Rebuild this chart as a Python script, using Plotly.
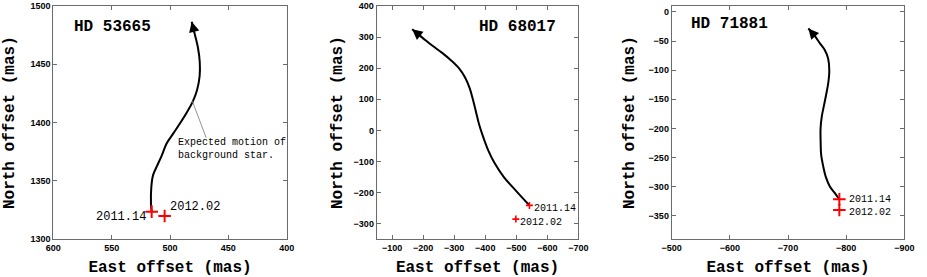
import plotly.graph_objects as go

# ---------------- data ----------------
names = ["HD 53665", "HD 68017", "HD 71881"]
epochs = ["2011.14", "2012.02"]

# expected background-star track (East, North) in mas, start -> arrow tip
track1_x = [515.7, 516.3, 516.0, 514.5, 511.4, 507.0, 502.8, 497.0, 491.4, 485.5, 480.5, 476.8, 474.6, 474.5, 476.0, 478.8, 481.4]
track1_y = [1323.7, 1330, 1345, 1355, 1362.3, 1372, 1382.3, 1391, 1399.5, 1409, 1418, 1428, 1440, 1452, 1464, 1476, 1486.5]
track2_x = [-542.5, -500, -460, -430, -410, -393, -380, -370, -360, -350, -335, -315, -290, -260, -230, -200, -164.3]
track2_y = [-241, -195, -150, -105, -65, -20, 20, 60, 100, 135, 170, 200, 225, 250, 272, 296, 325]
track3_x = [-788.3, -780, -772.2, -765, -760.7, -757, -756.2, -756, -758, -762, -766, -769.5, -771, -769, -763, -755, -745, -735]
track3_y = [-321.5, -310, -299.8, -283, -265.5, -245, -225.5, -200, -180, -160, -140, -120, -100, -80, -65, -54, -40, -28.5]

# measured companion positions at the two epochs
obs1_x = [515.7, 504.6]
obs1_y = [1323.7, 1320.0]
obs2_x = [-542.5, -498.6]
obs2_y = [-241.1, -285.0]
obs3_x = [-788.3, -788.3]
obs3_y = [-321.5, -339.7]

x_ranges = [[600, 400], [-50, -700], [-500, -900]]
y_ranges = [[1300, 1500], [-350, 400], [-390, 10]]
x_ticks = [[600, 550, 500, 450, 400], [-100, -200, -300, -400, -500, -600, -700], [-500, -600, -700, -800, -900]]
y_ticks = [[1300, 1350, 1400, 1450, 1500], [-300, -200, -100, 0, 100, 200, 300, 400],
           [-350, -300, -250, -200, -150, -100, -50, 0]]

# ---------------- layout geometry ----------------
W, H = 927, 277
x_dom = [[53.3 / W, 286.7 / W], [376.7 / W, 578.3 / W], [671.7 / W, 904.3 / W]]
y_dom = [1 - 239.3 / H, 1 - 6 / H]
y_title_standoff = [11, 7, 10]

MONO = "Liberation Mono"
SANS = "Liberation Sans"

fig = go.Figure()
tracks = [(track1_x, track1_y), (track2_x, track2_y), (track3_x, track3_y)]
obs = [(obs1_x, obs1_y), (obs2_x, obs2_y), (obs3_x, obs3_y)]
msize = [9, 5, 9]

for i in range(3):
    xa = "x" if i == 0 else f"x{i+1}"
    ya = "y" if i == 0 else f"y{i+1}"
    tx, ty = tracks[i]
    fig.add_trace(go.Scatter(x=tx, y=ty, mode="lines", xaxis=xa, yaxis=ya,
                             line=dict(color="black", width=2, shape="spline", smoothing=1),
                             showlegend=False, hoverinfo="skip"))
    ox, oy = obs[i]
    fig.add_trace(go.Scatter(x=ox, y=oy, mode="markers", xaxis=xa, yaxis=ya,
                             marker=dict(symbol="cross-thin", size=msize[i],
                                         line=dict(color="red", width=2 if i != 1 else 1.6)),
                             showlegend=False, hoverinfo="skip"))
    # arrow head at the end of the track
    fig.add_annotation(x=tx[-1], y=ty[-1], ax=tx[-2], ay=ty[-2], xref=xa, yref=ya,
                       axref=xa, ayref=ya, showarrow=True, arrowhead=2, arrowsize=1.3,
                       arrowwidth=1.6, arrowcolor="black", standoff=0, text="")

axis_common = dict(showline=True, linecolor="#6b6b6b", linewidth=1, mirror="ticks",
                   ticks="inside", ticklen=4, tickcolor="#6b6b6b", showgrid=False, zeroline=False,
                   automargin=False,
                   tickfont=dict(family=SANS, size=9, color="black", weight="bold"))

for i in range(3):
    sx = "" if i == 0 else str(i + 1)
    fig.layout["xaxis" + sx] = dict(
        domain=x_dom[i], range=x_ranges[i], tickvals=x_ticks[i], anchor="y" + sx,
        title=dict(text="East offset (mas)", standoff=11,
                   font=dict(family=MONO, size=16, color="black", weight="bold")),
        **axis_common)
    fig.layout["yaxis" + sx] = dict(
        domain=y_dom, range=y_ranges[i], tickvals=y_ticks[i], anchor="x" + sx,
        title=dict(text="North offset (mas)", standoff=y_title_standoff[i],
                   font=dict(family=MONO, size=16, color="black", weight="bold")),
        **axis_common)

# star names
name_pos = [(584.2, 1482.3), (-373.2, 333.6), (-530.4, -21.1)]
for i in range(3):
    sx = "" if i == 0 else str(i + 1)
    fig.add_annotation(x=name_pos[i][0], y=name_pos[i][1], xref="x" + sx, yref="y" + sx,
                       text=names[i], showarrow=False, xanchor="left", yanchor="middle",
                       font=dict(family=MONO, size=16, color="black", weight="bold"))

# epoch labels
lab_font = [12, 10, 10]
lab_pos = [
    [(519.1, 1319.1, "right"), (501.7, 1328.0, "left")],
    [(-550.0, -251.8, "left"), (-504.0, -295.7, "left")],
    [(-800.9, -320.9, "left"), (-802.0, -344.3, "left")],
]
for i in range(3):
    sx = "" if i == 0 else str(i + 1)
    for j in range(2):
        px, py, anc = lab_pos[i][j]
        fig.add_annotation(x=px, y=py, xref="x" + sx, yref="y" + sx, text=epochs[j],
                           showarrow=False, xanchor=anc, yanchor="middle",
                           font=dict(family=MONO, size=lab_font[i], color="black"))

# explanatory note in the first panel
fig.add_annotation(x=495.1, y=1377.3, xref="x", yref="y",
                   text="Expected motion of<br>background star.", showarrow=False,
                   xanchor="left", yanchor="middle", align="left",
                   font=dict(family=MONO, size=10, color="black"))
fig.add_annotation(x=480.9, y=1418.6, ax=468.5, ay=1385.7, xref="x", yref="y",
                   axref="x", ayref="y", showarrow=True, arrowhead=0, arrowwidth=0.8,
                   arrowcolor="#777777", standoff=0, text="")

fig.update_layout(width=W, height=H, margin=dict(l=0, r=0, t=0, b=0, pad=0, autoexpand=False),
                  paper_bgcolor="white", plot_bgcolor="white")

fig.write_html("out.html", config={"displayModeBar": False},
               post_script="document.body.style.margin='0';")
